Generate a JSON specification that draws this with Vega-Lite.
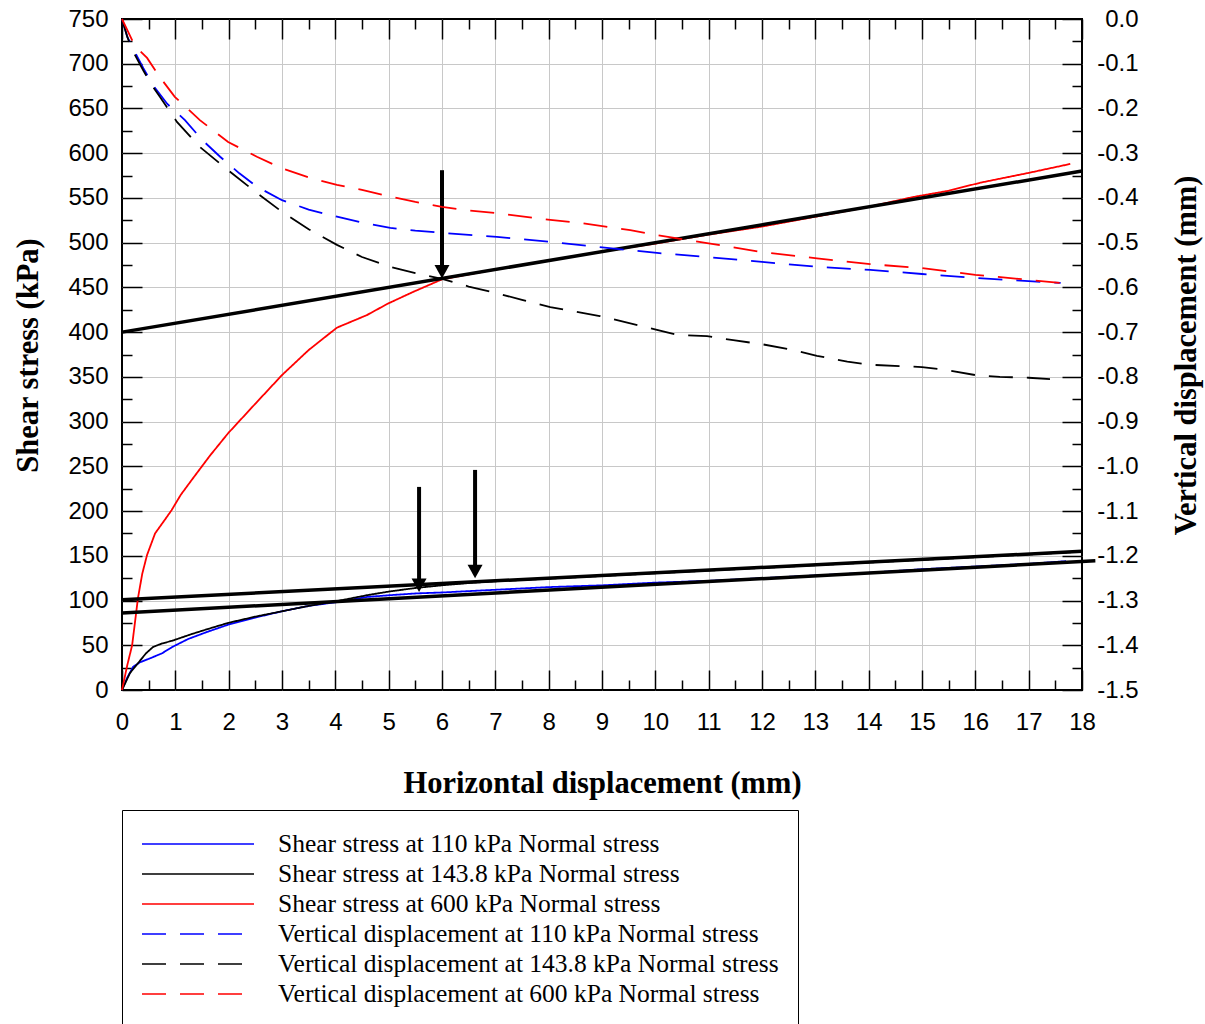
{
  "$schema": "https://vega.github.io/schema/vega-lite/v6.json",
  "width": 960,
  "height": 671,
  "autosize": {"type": "none"},
  "padding": {"left": 122, "top": 19, "right": 123, "bottom": 334},
  "background": "white",
  "config": {
    "view": {"stroke": "black", "strokeWidth": 2},
    "axis": {
      "labelFont": "Liberation Sans",
      "labelFontSize": 24,
      "labelColor": "black",
      "labelFlush": false,
      "labelOverlap": false,
      "tickColor": "black",
      "tickWidth": 1.5,
      "domain": false,
      "grid": false,
      "gridColor": "#c8c8c8",
      "gridWidth": 1,
      "titleFont": "Liberation Serif",
      "titleFontSize": 30.5,
      "titleFontWeight": "bold",
      "titleColor": "black"
    }
  },
  "datasets": {
    "shear": [
      {"s": "Shear stress at 110 kPa Normal stress", "x": 0, "v": 0},
      {"s": "Shear stress at 110 kPa Normal stress", "x": 0.1, "v": 14},
      {"s": "Shear stress at 110 kPa Normal stress", "x": 0.21, "v": 26},
      {"s": "Shear stress at 110 kPa Normal stress", "x": 0.34, "v": 31},
      {"s": "Shear stress at 110 kPa Normal stress", "x": 0.55, "v": 36},
      {"s": "Shear stress at 110 kPa Normal stress", "x": 0.75, "v": 41},
      {"s": "Shear stress at 110 kPa Normal stress", "x": 0.94, "v": 48},
      {"s": "Shear stress at 110 kPa Normal stress", "x": 1.24, "v": 57},
      {"s": "Shear stress at 110 kPa Normal stress", "x": 1.6, "v": 65},
      {"s": "Shear stress at 110 kPa Normal stress", "x": 1.99, "v": 73},
      {"s": "Shear stress at 110 kPa Normal stress", "x": 2.5, "v": 81},
      {"s": "Shear stress at 110 kPa Normal stress", "x": 3.0, "v": 88},
      {"s": "Shear stress at 110 kPa Normal stress", "x": 3.5, "v": 94},
      {"s": "Shear stress at 110 kPa Normal stress", "x": 4.0, "v": 98},
      {"s": "Shear stress at 110 kPa Normal stress", "x": 4.6, "v": 104},
      {"s": "Shear stress at 110 kPa Normal stress", "x": 5.03, "v": 106},
      {"s": "Shear stress at 110 kPa Normal stress", "x": 5.53, "v": 108},
      {"s": "Shear stress at 110 kPa Normal stress", "x": 6, "v": 109},
      {"s": "Shear stress at 110 kPa Normal stress", "x": 7, "v": 112},
      {"s": "Shear stress at 110 kPa Normal stress", "x": 8, "v": 115},
      {"s": "Shear stress at 110 kPa Normal stress", "x": 9, "v": 117},
      {"s": "Shear stress at 110 kPa Normal stress", "x": 10, "v": 120},
      {"s": "Shear stress at 110 kPa Normal stress", "x": 11, "v": 122},
      {"s": "Shear stress at 110 kPa Normal stress", "x": 12, "v": 125},
      {"s": "Shear stress at 110 kPa Normal stress", "x": 13, "v": 128},
      {"s": "Shear stress at 110 kPa Normal stress", "x": 14, "v": 131},
      {"s": "Shear stress at 110 kPa Normal stress", "x": 15, "v": 135},
      {"s": "Shear stress at 110 kPa Normal stress", "x": 16, "v": 138},
      {"s": "Shear stress at 110 kPa Normal stress", "x": 17, "v": 141},
      {"s": "Shear stress at 110 kPa Normal stress", "x": 17.7, "v": 144},
      {"s": "Shear stress at 143.8 kPa Normal stress", "x": 0, "v": 0},
      {"s": "Shear stress at 143.8 kPa Normal stress", "x": 0.15, "v": 19},
      {"s": "Shear stress at 143.8 kPa Normal stress", "x": 0.3, "v": 30},
      {"s": "Shear stress at 143.8 kPa Normal stress", "x": 0.45, "v": 41},
      {"s": "Shear stress at 143.8 kPa Normal stress", "x": 0.58, "v": 48},
      {"s": "Shear stress at 143.8 kPa Normal stress", "x": 0.75, "v": 52},
      {"s": "Shear stress at 143.8 kPa Normal stress", "x": 0.94, "v": 55},
      {"s": "Shear stress at 143.8 kPa Normal stress", "x": 1.28, "v": 62},
      {"s": "Shear stress at 143.8 kPa Normal stress", "x": 1.6, "v": 68},
      {"s": "Shear stress at 143.8 kPa Normal stress", "x": 1.99, "v": 75},
      {"s": "Shear stress at 143.8 kPa Normal stress", "x": 2.5, "v": 82},
      {"s": "Shear stress at 143.8 kPa Normal stress", "x": 3.0, "v": 88},
      {"s": "Shear stress at 143.8 kPa Normal stress", "x": 3.5, "v": 94},
      {"s": "Shear stress at 143.8 kPa Normal stress", "x": 4.0, "v": 99},
      {"s": "Shear stress at 143.8 kPa Normal stress", "x": 4.6, "v": 106},
      {"s": "Shear stress at 143.8 kPa Normal stress", "x": 5.0, "v": 110},
      {"s": "Shear stress at 143.8 kPa Normal stress", "x": 5.5, "v": 114},
      {"s": "Shear stress at 143.8 kPa Normal stress", "x": 6.0, "v": 117},
      {"s": "Shear stress at 143.8 kPa Normal stress", "x": 6.6, "v": 120},
      {"s": "Shear stress at 143.8 kPa Normal stress", "x": 7, "v": 121.5},
      {"s": "Shear stress at 143.8 kPa Normal stress", "x": 8, "v": 124.5},
      {"s": "Shear stress at 143.8 kPa Normal stress", "x": 9, "v": 127.5},
      {"s": "Shear stress at 143.8 kPa Normal stress", "x": 10, "v": 130.5},
      {"s": "Shear stress at 143.8 kPa Normal stress", "x": 11, "v": 133.5},
      {"s": "Shear stress at 143.8 kPa Normal stress", "x": 12, "v": 136.5},
      {"s": "Shear stress at 143.8 kPa Normal stress", "x": 13, "v": 139.5},
      {"s": "Shear stress at 143.8 kPa Normal stress", "x": 14, "v": 142.5},
      {"s": "Shear stress at 143.8 kPa Normal stress", "x": 15, "v": 145.5},
      {"s": "Shear stress at 143.8 kPa Normal stress", "x": 16, "v": 148.5},
      {"s": "Shear stress at 143.8 kPa Normal stress", "x": 17, "v": 151.5},
      {"s": "Shear stress at 143.8 kPa Normal stress", "x": 17.8, "v": 154},
      {"s": "Shear stress at 600 kPa Normal stress", "x": 0, "v": 0},
      {"s": "Shear stress at 600 kPa Normal stress", "x": 0.1, "v": 28},
      {"s": "Shear stress at 600 kPa Normal stress", "x": 0.19, "v": 50},
      {"s": "Shear stress at 600 kPa Normal stress", "x": 0.3, "v": 103},
      {"s": "Shear stress at 600 kPa Normal stress", "x": 0.38, "v": 130},
      {"s": "Shear stress at 600 kPa Normal stress", "x": 0.47, "v": 151},
      {"s": "Shear stress at 600 kPa Normal stress", "x": 0.62, "v": 175},
      {"s": "Shear stress at 600 kPa Normal stress", "x": 0.8, "v": 190},
      {"s": "Shear stress at 600 kPa Normal stress", "x": 0.93, "v": 201},
      {"s": "Shear stress at 600 kPa Normal stress", "x": 1.1, "v": 218},
      {"s": "Shear stress at 600 kPa Normal stress", "x": 1.31, "v": 235},
      {"s": "Shear stress at 600 kPa Normal stress", "x": 1.65, "v": 262},
      {"s": "Shear stress at 600 kPa Normal stress", "x": 1.99, "v": 287},
      {"s": "Shear stress at 600 kPa Normal stress", "x": 2.5, "v": 320},
      {"s": "Shear stress at 600 kPa Normal stress", "x": 3.0, "v": 352},
      {"s": "Shear stress at 600 kPa Normal stress", "x": 3.5, "v": 380},
      {"s": "Shear stress at 600 kPa Normal stress", "x": 4.03, "v": 405},
      {"s": "Shear stress at 600 kPa Normal stress", "x": 4.59, "v": 419},
      {"s": "Shear stress at 600 kPa Normal stress", "x": 4.99, "v": 432},
      {"s": "Shear stress at 600 kPa Normal stress", "x": 5.46, "v": 445},
      {"s": "Shear stress at 600 kPa Normal stress", "x": 6.0, "v": 459},
      {"s": "Shear stress at 600 kPa Normal stress", "x": 7, "v": 470},
      {"s": "Shear stress at 600 kPa Normal stress", "x": 8, "v": 480},
      {"s": "Shear stress at 600 kPa Normal stress", "x": 9, "v": 490},
      {"s": "Shear stress at 600 kPa Normal stress", "x": 10, "v": 499},
      {"s": "Shear stress at 600 kPa Normal stress", "x": 11, "v": 509},
      {"s": "Shear stress at 600 kPa Normal stress", "x": 12, "v": 518},
      {"s": "Shear stress at 600 kPa Normal stress", "x": 13, "v": 529},
      {"s": "Shear stress at 600 kPa Normal stress", "x": 14, "v": 540},
      {"s": "Shear stress at 600 kPa Normal stress", "x": 14.83, "v": 551},
      {"s": "Shear stress at 600 kPa Normal stress", "x": 15.5, "v": 558},
      {"s": "Shear stress at 600 kPa Normal stress", "x": 16.09, "v": 567},
      {"s": "Shear stress at 600 kPa Normal stress", "x": 17, "v": 578},
      {"s": "Shear stress at 600 kPa Normal stress", "x": 17.78, "v": 588}
    ],
    "vd": [
      {"s": "Vertical displacement at 110 kPa Normal stress", "x": 0, "v": 0},
      {"s": "Vertical displacement at 110 kPa Normal stress", "x": 0.1, "v": -0.04},
      {"s": "Vertical displacement at 110 kPa Normal stress", "x": 0.21, "v": -0.067},
      {"s": "Vertical displacement at 110 kPa Normal stress", "x": 0.4, "v": -0.11},
      {"s": "Vertical displacement at 110 kPa Normal stress", "x": 0.58, "v": -0.148},
      {"s": "Vertical displacement at 110 kPa Normal stress", "x": 0.85, "v": -0.19},
      {"s": "Vertical displacement at 110 kPa Normal stress", "x": 1.18, "v": -0.226},
      {"s": "Vertical displacement at 110 kPa Normal stress", "x": 1.5, "v": -0.27},
      {"s": "Vertical displacement at 110 kPa Normal stress", "x": 1.84, "v": -0.308},
      {"s": "Vertical displacement at 110 kPa Normal stress", "x": 2.2, "v": -0.345},
      {"s": "Vertical displacement at 110 kPa Normal stress", "x": 2.53, "v": -0.375},
      {"s": "Vertical displacement at 110 kPa Normal stress", "x": 3.0, "v": -0.405},
      {"s": "Vertical displacement at 110 kPa Normal stress", "x": 3.5, "v": -0.426},
      {"s": "Vertical displacement at 110 kPa Normal stress", "x": 4.03, "v": -0.442},
      {"s": "Vertical displacement at 110 kPa Normal stress", "x": 4.5, "v": -0.455},
      {"s": "Vertical displacement at 110 kPa Normal stress", "x": 5.03, "v": -0.467},
      {"s": "Vertical displacement at 110 kPa Normal stress", "x": 5.5, "v": -0.473},
      {"s": "Vertical displacement at 110 kPa Normal stress", "x": 6.0, "v": -0.478},
      {"s": "Vertical displacement at 110 kPa Normal stress", "x": 7.03, "v": -0.487},
      {"s": "Vertical displacement at 110 kPa Normal stress", "x": 8.03, "v": -0.498},
      {"s": "Vertical displacement at 110 kPa Normal stress", "x": 8.96, "v": -0.51},
      {"s": "Vertical displacement at 110 kPa Normal stress", "x": 10.03, "v": -0.523},
      {"s": "Vertical displacement at 110 kPa Normal stress", "x": 10.97, "v": -0.532},
      {"s": "Vertical displacement at 110 kPa Normal stress", "x": 12.0, "v": -0.543},
      {"s": "Vertical displacement at 110 kPa Normal stress", "x": 13.03, "v": -0.554},
      {"s": "Vertical displacement at 110 kPa Normal stress", "x": 14.03, "v": -0.561},
      {"s": "Vertical displacement at 110 kPa Normal stress", "x": 15.0, "v": -0.57},
      {"s": "Vertical displacement at 110 kPa Normal stress", "x": 16.0, "v": -0.579},
      {"s": "Vertical displacement at 110 kPa Normal stress", "x": 17.0, "v": -0.586},
      {"s": "Vertical displacement at 110 kPa Normal stress", "x": 17.6, "v": -0.59},
      {"s": "Vertical displacement at 143.8 kPa Normal stress", "x": 0, "v": 0},
      {"s": "Vertical displacement at 143.8 kPa Normal stress", "x": 0.1, "v": -0.04},
      {"s": "Vertical displacement at 143.8 kPa Normal stress", "x": 0.19, "v": -0.069},
      {"s": "Vertical displacement at 143.8 kPa Normal stress", "x": 0.4, "v": -0.115},
      {"s": "Vertical displacement at 143.8 kPa Normal stress", "x": 0.56, "v": -0.148},
      {"s": "Vertical displacement at 143.8 kPa Normal stress", "x": 0.71, "v": -0.174},
      {"s": "Vertical displacement at 143.8 kPa Normal stress", "x": 1.03, "v": -0.23},
      {"s": "Vertical displacement at 143.8 kPa Normal stress", "x": 1.46, "v": -0.286},
      {"s": "Vertical displacement at 143.8 kPa Normal stress", "x": 1.99, "v": -0.338},
      {"s": "Vertical displacement at 143.8 kPa Normal stress", "x": 2.53, "v": -0.389},
      {"s": "Vertical displacement at 143.8 kPa Normal stress", "x": 3.0, "v": -0.431},
      {"s": "Vertical displacement at 143.8 kPa Normal stress", "x": 3.5, "v": -0.47},
      {"s": "Vertical displacement at 143.8 kPa Normal stress", "x": 4.03, "v": -0.505},
      {"s": "Vertical displacement at 143.8 kPa Normal stress", "x": 4.5, "v": -0.532},
      {"s": "Vertical displacement at 143.8 kPa Normal stress", "x": 5.03, "v": -0.554},
      {"s": "Vertical displacement at 143.8 kPa Normal stress", "x": 5.5, "v": -0.568},
      {"s": "Vertical displacement at 143.8 kPa Normal stress", "x": 6.0, "v": -0.581},
      {"s": "Vertical displacement at 143.8 kPa Normal stress", "x": 6.5, "v": -0.598},
      {"s": "Vertical displacement at 143.8 kPa Normal stress", "x": 7.03, "v": -0.613},
      {"s": "Vertical displacement at 143.8 kPa Normal stress", "x": 7.5, "v": -0.628},
      {"s": "Vertical displacement at 143.8 kPa Normal stress", "x": 8.03, "v": -0.644},
      {"s": "Vertical displacement at 143.8 kPa Normal stress", "x": 8.96, "v": -0.664},
      {"s": "Vertical displacement at 143.8 kPa Normal stress", "x": 10.03, "v": -0.695},
      {"s": "Vertical displacement at 143.8 kPa Normal stress", "x": 10.4, "v": -0.706},
      {"s": "Vertical displacement at 143.8 kPa Normal stress", "x": 10.97, "v": -0.709},
      {"s": "Vertical displacement at 143.8 kPa Normal stress", "x": 11.46, "v": -0.718},
      {"s": "Vertical displacement at 143.8 kPa Normal stress", "x": 12.0, "v": -0.727},
      {"s": "Vertical displacement at 143.8 kPa Normal stress", "x": 12.58, "v": -0.74},
      {"s": "Vertical displacement at 143.8 kPa Normal stress", "x": 13.03, "v": -0.753},
      {"s": "Vertical displacement at 143.8 kPa Normal stress", "x": 13.6, "v": -0.766},
      {"s": "Vertical displacement at 143.8 kPa Normal stress", "x": 14.03, "v": -0.773},
      {"s": "Vertical displacement at 143.8 kPa Normal stress", "x": 14.6, "v": -0.776},
      {"s": "Vertical displacement at 143.8 kPa Normal stress", "x": 15.0, "v": -0.778},
      {"s": "Vertical displacement at 143.8 kPa Normal stress", "x": 15.47, "v": -0.785},
      {"s": "Vertical displacement at 143.8 kPa Normal stress", "x": 16.0, "v": -0.796},
      {"s": "Vertical displacement at 143.8 kPa Normal stress", "x": 16.46, "v": -0.8},
      {"s": "Vertical displacement at 143.8 kPa Normal stress", "x": 17.0, "v": -0.802},
      {"s": "Vertical displacement at 143.8 kPa Normal stress", "x": 17.4, "v": -0.805},
      {"s": "Vertical displacement at 600 kPa Normal stress", "x": 0, "v": 0},
      {"s": "Vertical displacement at 600 kPa Normal stress", "x": 0.24, "v": -0.06},
      {"s": "Vertical displacement at 600 kPa Normal stress", "x": 0.47, "v": -0.087},
      {"s": "Vertical displacement at 600 kPa Normal stress", "x": 0.71, "v": -0.13},
      {"s": "Vertical displacement at 600 kPa Normal stress", "x": 0.99, "v": -0.174},
      {"s": "Vertical displacement at 600 kPa Normal stress", "x": 1.46, "v": -0.226},
      {"s": "Vertical displacement at 600 kPa Normal stress", "x": 1.99, "v": -0.275},
      {"s": "Vertical displacement at 600 kPa Normal stress", "x": 2.53, "v": -0.308},
      {"s": "Vertical displacement at 600 kPa Normal stress", "x": 3.0, "v": -0.334},
      {"s": "Vertical displacement at 600 kPa Normal stress", "x": 3.5, "v": -0.354},
      {"s": "Vertical displacement at 600 kPa Normal stress", "x": 4.03, "v": -0.371},
      {"s": "Vertical displacement at 600 kPa Normal stress", "x": 4.5, "v": -0.382},
      {"s": "Vertical displacement at 600 kPa Normal stress", "x": 5.03, "v": -0.397},
      {"s": "Vertical displacement at 600 kPa Normal stress", "x": 5.5, "v": -0.409},
      {"s": "Vertical displacement at 600 kPa Normal stress", "x": 6.0, "v": -0.42},
      {"s": "Vertical displacement at 600 kPa Normal stress", "x": 6.5, "v": -0.428},
      {"s": "Vertical displacement at 600 kPa Normal stress", "x": 7.03, "v": -0.434},
      {"s": "Vertical displacement at 600 kPa Normal stress", "x": 8.03, "v": -0.449},
      {"s": "Vertical displacement at 600 kPa Normal stress", "x": 8.59, "v": -0.456},
      {"s": "Vertical displacement at 600 kPa Normal stress", "x": 9.53, "v": -0.472},
      {"s": "Vertical displacement at 600 kPa Normal stress", "x": 10.03, "v": -0.483},
      {"s": "Vertical displacement at 600 kPa Normal stress", "x": 10.5, "v": -0.492},
      {"s": "Vertical displacement at 600 kPa Normal stress", "x": 10.97, "v": -0.501},
      {"s": "Vertical displacement at 600 kPa Normal stress", "x": 12.0, "v": -0.521},
      {"s": "Vertical displacement at 600 kPa Normal stress", "x": 13.03, "v": -0.535},
      {"s": "Vertical displacement at 600 kPa Normal stress", "x": 14.03, "v": -0.548},
      {"s": "Vertical displacement at 600 kPa Normal stress", "x": 15.0, "v": -0.557},
      {"s": "Vertical displacement at 600 kPa Normal stress", "x": 16.0, "v": -0.572},
      {"s": "Vertical displacement at 600 kPa Normal stress", "x": 16.99, "v": -0.583},
      {"s": "Vertical displacement at 600 kPa Normal stress", "x": 17.59, "v": -0.59}
    ],
    "fit": [
      {"g": "600", "x": 0, "v": 400},
      {"g": "600", "x": 18, "v": 580},
      {"g": "143.8", "x": 0, "v": 101},
      {"g": "143.8", "x": 18, "v": 155},
      {"g": "110", "x": 0, "v": 86},
      {"g": "110", "x": 18.25, "v": 144.5}
    ],
    "arrows": [
      {"x": 6.0, "top": 581, "bot": 474, "tip": 460},
      {"x": 5.57, "top": 227, "bot": 124, "tip": 109.5},
      {"x": 6.62, "top": 246, "bot": 139, "tip": 125}
    ]
  },
  "resolve": {
    "scale": {"y": "independent"},
    "axis": {"x": "independent", "y": "independent"}
  },
  "layer": [
    {
      "data": {"name": "arrows"},
      "mark": {"type": "rule", "color": "black", "strokeWidth": 4},
      "encoding": {
        "x": {"field": "x", "type": "quantitative", "scale": {"domain": [0, 18], "nice": false, "zero": false},
          "axis": {"orient": "bottom", "values": [1,2,3,4,5,6,7,8,9,10,11,12,13,14,15,16,17], "grid": true, "ticks": false, "labels": false, "title": null}},
        "y": {"field": "top", "type": "quantitative", "scale": {"domain": [0, 750], "nice": false},
          "axis": {"orient": "left", "values": [50,100,150,200,250,300,350,400,450,500,550,600,650,700], "grid": true, "ticks": false, "labels": false, "title": null}},
        "y2": {"field": "bot"}
      }
    },
    {
      "data": {"name": "shear"},
      "mark": {"type": "line", "strokeWidth": 1.8},
      "encoding": {
        "x": {"field": "x", "type": "quantitative", "scale": {"domain": [0, 18], "nice": false, "zero": false},
          "axis": {"orient": "bottom", "values": [0,1,2,3,4,5,6,7,8,9,10,11,12,13,14,15,16,17,18], "tickSize": -20, "labelPadding": 40,
            "title": "Horizontal displacement (mm)", "titleY": 102, "titleBaseline": "alphabetic"}},
        "y": {"field": "v", "type": "quantitative", "scale": {"domain": [0, 750], "nice": false},
          "axis": {"orient": "left", "values": [0,50,100,150,200,250,300,350,400,450,500,550,600,650,700,750], "tickSize": -20, "labelPadding": 34,
            "title": "Shear stress (kPa)", "titleAngle": 270, "titleX": -85, "titleY": 336, "titleBaseline": "alphabetic", "titleAlign": "center"}},
        "color": {"field": "s", "type": "nominal",
          "scale": {"domain": ["Shear stress at 110 kPa Normal stress", "Shear stress at 143.8 kPa Normal stress", "Shear stress at 600 kPa Normal stress", "Vertical displacement at 110 kPa Normal stress", "Vertical displacement at 143.8 kPa Normal stress", "Vertical displacement at 600 kPa Normal stress"],
            "range": ["#0000ff", "#000000", "#ff0000", "#0000ff", "#000000", "#ff0000"]},
          "legend": {"title": null, "orient": "none", "legendX": 0, "legendY": 791, "symbolType": "M-4,0H4", "symbolSize": 784, "symbolStrokeWidth": 1.5, "symbolOffset": 42, "labelOffset": 65, "labelFont": "Liberation Serif", "labelFontSize": 25.5, "labelColor": "black", "labelLimit": 700, "padding": 19, "strokeColor": "black", "fillColor": "white", "rowPadding": 1}},
        "strokeDash": {"field": "s", "type": "nominal",
          "scale": {"domain": ["Shear stress at 110 kPa Normal stress", "Shear stress at 143.8 kPa Normal stress", "Shear stress at 600 kPa Normal stress", "Vertical displacement at 110 kPa Normal stress", "Vertical displacement at 143.8 kPa Normal stress", "Vertical displacement at 600 kPa Normal stress"],
            "range": [[1, 0], [1, 0], [1, 0], [24, 14], [24, 14], [24, 14]]},
          "legend": {"title": null, "orient": "none", "legendX": 0, "legendY": 791, "symbolType": "M-4,0H4", "symbolSize": 784, "symbolStrokeWidth": 1.5, "symbolOffset": 42, "labelOffset": 65, "labelFont": "Liberation Serif", "labelFontSize": 25.5, "labelColor": "black", "labelLimit": 700, "padding": 19, "strokeColor": "black", "fillColor": "white", "rowPadding": 1}}
      }
    },
    {
      "data": {"name": "fit"},
      "mark": {"type": "line", "color": "black", "strokeWidth": 3.5},
      "encoding": {
        "x": {"field": "x", "type": "quantitative", "scale": {"domain": [0, 18], "nice": false, "zero": false},
          "axis": {"orient": "bottom", "values": [0.5,1.5,2.5,3.5,4.5,5.5,6.5,7.5,8.5,9.5,10.5,11.5,12.5,13.5,14.5,15.5,16.5,17.5], "tickSize": -10, "labels": false, "title": null}},
        "y": {"field": "v", "type": "quantitative", "scale": {"domain": [0, 750], "nice": false},
          "axis": {"orient": "left", "values": [25,75,125,175,225,275,325,375,425,475,525,575,625,675,725], "tickSize": -10, "labels": false, "title": null}},
        "detail": {"field": "g", "type": "nominal"}
      }
    },
    {
      "data": {"name": "vd"},
      "transform": [{"filter": "datum.s !== 'Vertical displacement at 600 kPa Normal stress'"}],
      "mark": {"type": "line", "strokeWidth": 1.8},
      "encoding": {
        "x": {"field": "x", "type": "quantitative", "scale": {"domain": [0, 18], "nice": false, "zero": false},
          "axis": {"orient": "top", "values": [0,1,2,3,4,5,6,7,8,9,10,11,12,13,14,15,16,17,18], "tickSize": -20, "labels": false, "title": null}},
        "y": {"field": "v", "type": "quantitative", "scale": {"domain": [-1.5, 0], "nice": false, "zero": false},
          "axis": {"orient": "right", "values": [-1.5,-1.4,-1.3,-1.2,-1.1,-1.0,-0.9,-0.8,-0.7,-0.6,-0.5,-0.4,-0.3,-0.2,-0.1,0], "tickSize": -20, "labelPadding": 76, "labelAlign": "right",
            "labelExpr": "(datum.value < -0.0001 ? '-' : '') + format(abs(datum.value), '.1f')",
            "title": "Vertical displacement (mm)", "titleAngle": 270, "titleX": 113, "titleY": 336, "titleBaseline": "alphabetic", "titleAlign": "center"}},
        "color": {"field": "s", "type": "nominal",
          "scale": {"domain": ["Shear stress at 110 kPa Normal stress", "Shear stress at 143.8 kPa Normal stress", "Shear stress at 600 kPa Normal stress", "Vertical displacement at 110 kPa Normal stress", "Vertical displacement at 143.8 kPa Normal stress", "Vertical displacement at 600 kPa Normal stress"],
            "range": ["#0000ff", "#000000", "#ff0000", "#0000ff", "#000000", "#ff0000"]},
          "legend": {"title": null, "orient": "none", "legendX": 0, "legendY": 791, "symbolType": "M-4,0H4", "symbolSize": 784, "symbolStrokeWidth": 1.5, "symbolOffset": 42, "labelOffset": 65, "labelFont": "Liberation Serif", "labelFontSize": 25.5, "labelColor": "black", "labelLimit": 700, "padding": 19, "strokeColor": "black", "fillColor": "white", "rowPadding": 1}},
        "strokeDash": {"field": "s", "type": "nominal",
          "scale": {"domain": ["Shear stress at 110 kPa Normal stress", "Shear stress at 143.8 kPa Normal stress", "Shear stress at 600 kPa Normal stress", "Vertical displacement at 110 kPa Normal stress", "Vertical displacement at 143.8 kPa Normal stress", "Vertical displacement at 600 kPa Normal stress"],
            "range": [[1, 0], [1, 0], [1, 0], [24, 14], [24, 14], [24, 14]]},
          "legend": {"title": null, "orient": "none", "legendX": 0, "legendY": 791, "symbolType": "M-4,0H4", "symbolSize": 784, "symbolStrokeWidth": 1.5, "symbolOffset": 42, "labelOffset": 65, "labelFont": "Liberation Serif", "labelFontSize": 25.5, "labelColor": "black", "labelLimit": 700, "padding": 19, "strokeColor": "black", "fillColor": "white", "rowPadding": 1}}
      }
    },
    {
      "data": {"name": "vd"},
      "transform": [{"filter": "datum.s === 'Vertical displacement at 600 kPa Normal stress'"}],
      "mark": {"type": "line", "strokeWidth": 1.8},
      "encoding": {
        "x": {"field": "x", "type": "quantitative", "scale": {"domain": [0, 18], "nice": false, "zero": false},
          "axis": {"orient": "top", "values": [0.5,1.5,2.5,3.5,4.5,5.5,6.5,7.5,8.5,9.5,10.5,11.5,12.5,13.5,14.5,15.5,16.5,17.5], "tickSize": -10, "labels": false, "title": null}},
        "y": {"field": "v", "type": "quantitative", "scale": {"domain": [-1.5, 0], "nice": false, "zero": false},
          "axis": {"orient": "right", "values": [-1.45,-1.35,-1.25,-1.15,-1.05,-0.95,-0.85,-0.75,-0.65,-0.55,-0.45,-0.35,-0.25,-0.15,-0.05], "tickSize": -10, "labels": false, "title": null}},
        "color": {"field": "s", "type": "nominal",
          "scale": {"domain": ["Shear stress at 110 kPa Normal stress", "Shear stress at 143.8 kPa Normal stress", "Shear stress at 600 kPa Normal stress", "Vertical displacement at 110 kPa Normal stress", "Vertical displacement at 143.8 kPa Normal stress", "Vertical displacement at 600 kPa Normal stress"],
            "range": ["#0000ff", "#000000", "#ff0000", "#0000ff", "#000000", "#ff0000"]},
          "legend": {"title": null, "orient": "none", "legendX": 0, "legendY": 791, "symbolType": "M-4,0H4", "symbolSize": 784, "symbolStrokeWidth": 1.5, "symbolOffset": 42, "labelOffset": 65, "labelFont": "Liberation Serif", "labelFontSize": 25.5, "labelColor": "black", "labelLimit": 700, "padding": 19, "strokeColor": "black", "fillColor": "white", "rowPadding": 1}},
        "strokeDash": {"field": "s", "type": "nominal",
          "scale": {"domain": ["Shear stress at 110 kPa Normal stress", "Shear stress at 143.8 kPa Normal stress", "Shear stress at 600 kPa Normal stress", "Vertical displacement at 110 kPa Normal stress", "Vertical displacement at 143.8 kPa Normal stress", "Vertical displacement at 600 kPa Normal stress"],
            "range": [[1, 0], [1, 0], [1, 0], [24, 14], [24, 14], [24, 14]]},
          "legend": {"title": null, "orient": "none", "legendX": 0, "legendY": 791, "symbolType": "M-4,0H4", "symbolSize": 784, "symbolStrokeWidth": 1.5, "symbolOffset": 42, "labelOffset": 65, "labelFont": "Liberation Serif", "labelFontSize": 25.5, "labelColor": "black", "labelLimit": 700, "padding": 19, "strokeColor": "black", "fillColor": "white", "rowPadding": 1}}
      }
    },
    {
      "data": {"name": "arrows"},
      "mark": {"type": "point", "shape": "M-1,-1.8L1,-1.8L0,0Z", "filled": true, "size": 225, "color": "black", "opacity": 1},
      "encoding": {
        "x": {"field": "x", "type": "quantitative", "scale": {"domain": [0, 18], "nice": false, "zero": false}, "axis": null},
        "y": {"field": "tip", "type": "quantitative", "scale": {"domain": [0, 750], "nice": false}, "axis": null}
      }
    }
  ]
}
